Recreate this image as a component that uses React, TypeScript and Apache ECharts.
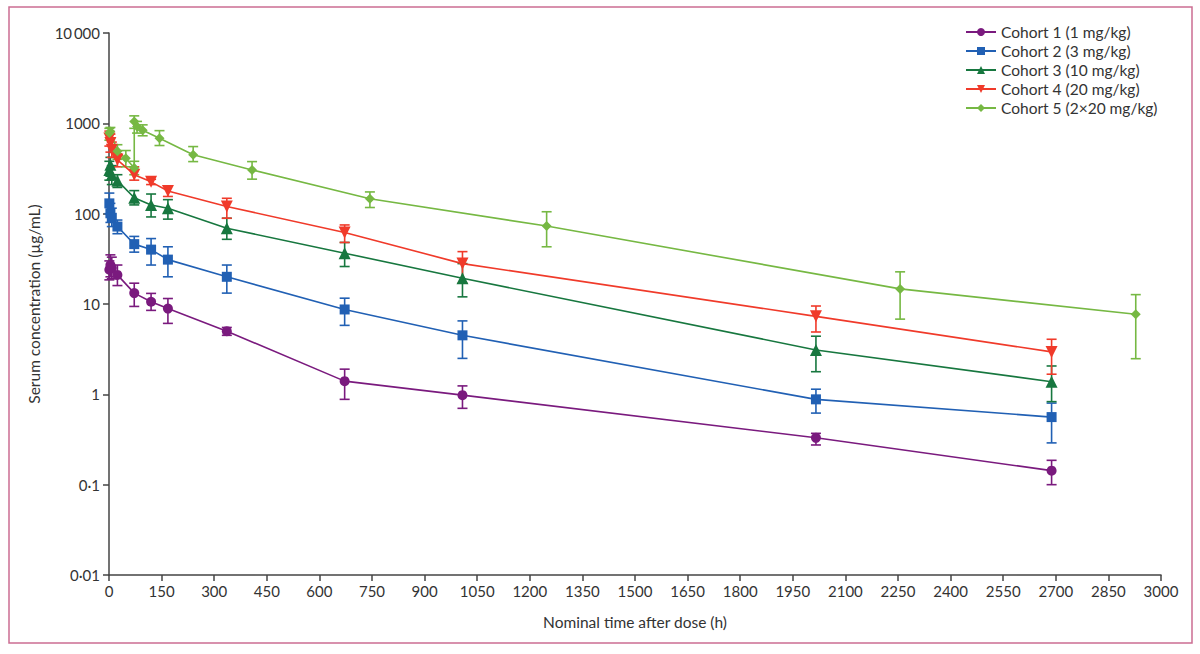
import React, { useEffect, useRef } from "react";
import * as echarts from "echarts";

// ---- data ----
const cohortNames = [
  "Cohort 1 (1 mg/kg)",
  "Cohort 2 (3 mg/kg)",
  "Cohort 3 (10 mg/kg)",
  "Cohort 4 (20 mg/kg)",
  "Cohort 5 (2×20 mg/kg)",
];

const timesA = [1, 4, 8, 24, 72, 120, 168, 336, 672, 1008, 2016, 2688];

const c1Mean = [24, 27, 25, 21, 13.2, 10.6, 8.9, 5.0, 1.4, 0.98, 0.33, 0.143];
const c1Low = [18.5, 20, 19, 16, 9.4, 8.5, 6.1, 4.5, 0.88, 0.7, 0.275, 0.1];
const c1High = [30, 35, 33, 27, 17, 13.1, 11.5, 5.5, 1.9, 1.24, 0.37, 0.186];

const c2Mean = [130, 101, 90, 72, 46, 40, 31, 20, 8.7, 4.5, 0.88, 0.56];
const c2Low = [100, 80, 72, 60, 37.5, 27, 20, 13.2, 5.8, 2.5, 0.62, 0.29];
const c2High = [169, 130, 115, 85, 56, 53, 43, 27, 11.6, 6.5, 1.14, 0.8];

const c3Mean = [305, 347, 270, 232, 150, 125, 115, 69, 36.5, 19.3, 3.1, 1.38];
const c3Low = [235, 260, 210, 195, 125, 92, 87, 52, 26, 12, 1.78, 0.83];
const c3High = [380, 420, 340, 270, 180, 165, 143, 89, 48, 28, 4.4, 2.06];

const c4Mean = [680, 604, 509, 394, 270, 225, 178, 120, 62, 28, 7.3, 2.95];
const c4Low = [560, 480, 420, 330, 235, 210, 155, 89, 48, 17, 4.9, 1.67];
const c4High = [820, 760, 620, 460, 330, 240, 203, 148, 75, 38, 9.5, 4.07];

const timesB = [1, 4, 24, 48, 72, 72, 80, 96, 144, 240, 408, 744, 1248, 2256, 2928];
const c5Mean = [780, 810, 490, 410, 320, 1050, 920, 840, 685, 450, 305, 146, 73, 14.7, 7.7];
const c5Low = [650, 680, 400, 330, 270, 880, 780, 728, 568, 377, 241, 117, 43, 6.8, 2.48];
const c5High = [880, 900, 580, 500, 380, 1210, 1050, 962, 830, 553, 377, 174, 105, 22.7, 12.7];

const yTickLabels: Record<string, string> = {
  "0.01": "0·01",
  "0.1": "0·1",
  "1": "1",
  "10": "10",
  "100": "100",
  "1000": "1000",
  "10000": "10\u2009000",
};

const colors = ["#7a1a7e", "#2160b4", "#17773f", "#f03a2a", "#76b843"];
const symbols = [
  "circle",
  "rect",
  "triangle",
  "path://M0,0 L10,0 L5,9 Z",
  "diamond",
];
const symbolSizes = [10, 10, 12, 12, 10];

const FONT = "Lato, 'Open Sans', sans-serif";

export default function App() {
  const ref = useRef<HTMLDivElement>(null);

  useEffect(() => {
    document.body.style.margin = "0";
    if (!ref.current) return;
    const chart = echarts.init(ref.current, undefined, { renderer: "svg" });

    const cohorts = [
      { t: timesA, m: c1Mean, lo: c1Low, hi: c1High },
      { t: timesA, m: c2Mean, lo: c2Low, hi: c2High },
      { t: timesA, m: c3Mean, lo: c3Low, hi: c3High },
      { t: timesA, m: c4Mean, lo: c4Low, hi: c4High },
      { t: timesB, m: c5Mean, lo: c5Low, hi: c5High },
    ];

    const series: any[] = [];
    cohorts.forEach((c, i) => {
      series.push({
        type: "custom",
        name: "err-" + i,
        z: 2,
        silent: true,
        data: c.t.map((t, k) => [t, c.lo[k], c.hi[k]]),
        renderItem: (params: any, api: any) => {
          const x = api.value(0);
          const p1 = api.coord([x, api.value(1)]);
          const p2 = api.coord([x, api.value(2)]);
          const hw = 5;
          const style = { stroke: colors[i], lineWidth: 1.6 };
          return {
            type: "group",
            children: [
              { type: "line", shape: { x1: p1[0], y1: p1[1], x2: p2[0], y2: p2[1] }, style },
              { type: "line", shape: { x1: p1[0] - hw, y1: p1[1], x2: p1[0] + hw, y2: p1[1] }, style },
              { type: "line", shape: { x1: p2[0] - hw, y1: p2[1], x2: p2[0] + hw, y2: p2[1] }, style },
            ],
          };
        },
      });
      series.push({
        type: "line",
        name: cohortNames[i],
        z: 3,
        data: c.t.map((t, k) => [t, c.m[k]]),
        symbol: symbols[i],
        symbolSize: symbolSizes[i],
        showAllSymbol: true,
        itemStyle: { color: colors[i] },
        lineStyle: { color: colors[i], width: 1.6 },
      });
    });

    chart.setOption({
      animation: false,
      backgroundColor: "#ffffff",
      textStyle: { fontFamily: FONT },
      grid: { left: 109, right: 39, top: 33, bottom: 79, outerBoundsMode: "none" },
      legend: {
        orient: "vertical",
        left: 960,
        top: 19,
        itemGap: 3,
        itemWidth: 30,
        itemHeight: 10,
        data: cohortNames,
        textStyle: { fontSize: 15.5, color: "#333", fontFamily: FONT },
      },
      xAxis: {
        type: "value",
        min: 0,
        max: 3000,
        interval: 150,
        name: "Nominal time after dose (h)",
        nameLocation: "middle",
        nameGap: 39,
        nameTextStyle: { fontSize: 15.5, color: "#333", fontFamily: FONT },
        axisLine: { lineStyle: { color: "#444", width: 1.5 } },
        axisTick: { show: true, inside: false, length: 6, lineStyle: { color: "#444", width: 1.5 } },
        axisLabel: {
          fontSize: 15,
          color: "#333",
          margin: 8,
          fontFamily: FONT,
          formatter: (v: number) => String(v),
        },
        splitLine: { show: false },
      },
      yAxis: {
        type: "log",
        logBase: 10,
        min: 0.01,
        max: 10000,
        name: "Serum concentration (µg/mL)",
        nameLocation: "middle",
        nameGap: 67,
        nameTextStyle: { fontSize: 15.5, color: "#333", fontFamily: FONT },
        axisLine: { show: true, lineStyle: { color: "#444", width: 1.5 } },
        axisTick: { show: true, inside: false, length: 6, lineStyle: { color: "#444", width: 1.5 } },
        axisLabel: {
          fontSize: 15,
          color: "#333",
          margin: 9,
          fontFamily: FONT,
          formatter: (v: number) => yTickLabels[String(v)] ?? String(v),
        },
        splitLine: { show: false },
      },
      graphic: [
        {
          type: "rect",
          shape: { x: 9, y: 7, width: 1183, height: 636 },
          style: { fill: "none", stroke: "#cc6d92", lineWidth: 1.5 },
          z: 0,
        },
      ],
      series,
    });

    return () => chart.dispose();
  }, []);

  return <div ref={ref} style={{ width: 1200, height: 654 }} />;
}
